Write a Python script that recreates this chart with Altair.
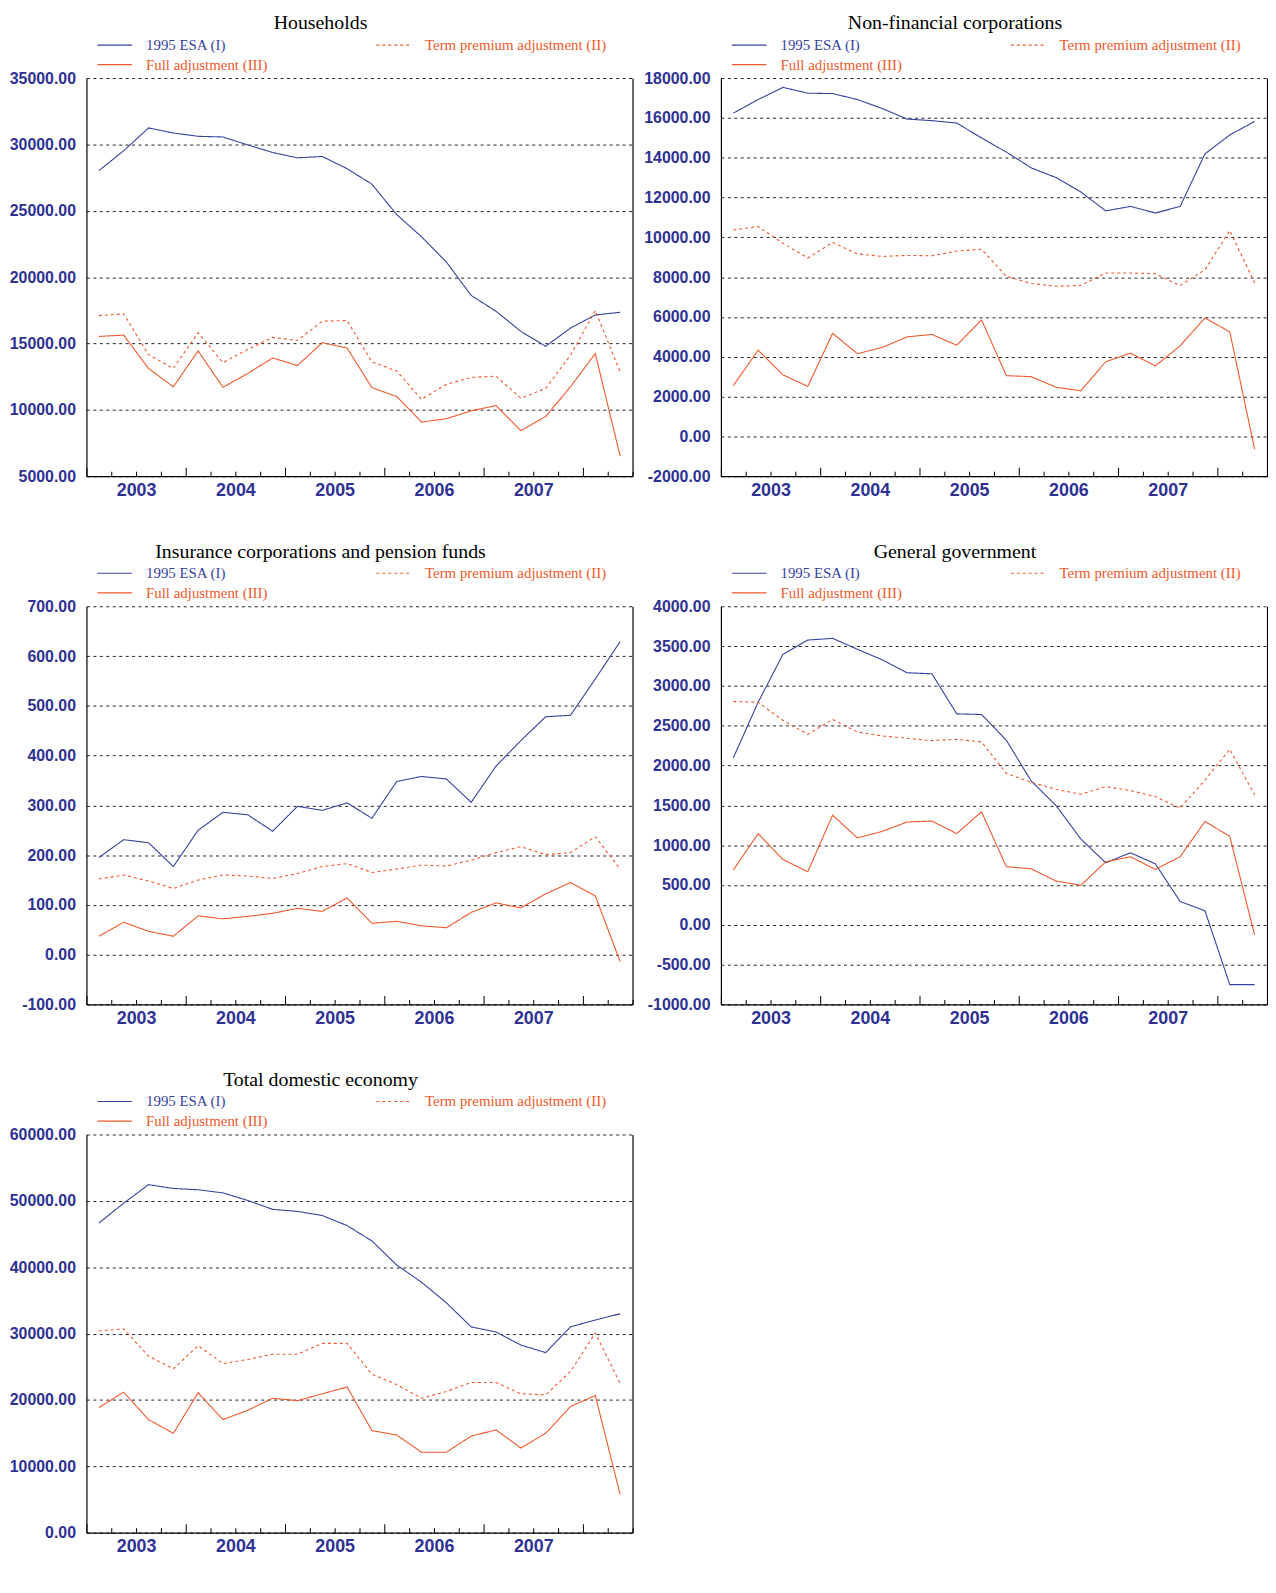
import json
import altair as alt
import pandas as pd

SERIES = ["1995 ESA (I)", "Term premium adjustment (II)", "Full adjustment (III)"]
YEARS = ["2003", "2004", "2005", "2006", "2007"]
N_QUARTERS = 22  # 2003Q1 .. 2008Q2

# ---- Households
hh_esa = [28020, 29520, 31240, 30860, 30610, 30560, 29960, 29390, 28990, 29090, 28170,
          27000, 24710, 23040, 21140, 18620, 17430, 15910, 14790, 16160, 17150, 17350]
hh_tpa = [17100, 17230, 14160, 13120, 15810, 13560, 14560, 15460, 15230, 16680, 16730,
          13610, 12920, 10800, 11920, 12440, 12540, 10870, 11620, 14110, 17480, 12870]
hh_full = [15530, 15630, 13120, 11740, 14440, 11700, 12740, 13910, 13340, 15060, 14660,
           11670, 11000, 9080, 9330, 9930, 10320, 8430, 9500, 11740, 14240, 6510]
hh_ticks = [5000, 10000, 15000, 20000, 25000, 30000, 35000]

# ---- Non-financial corporations
nfc_esa = [16240, 16920, 17530, 17240, 17220, 16920, 16470, 15940, 15860, 15740, 14990,
           14280, 13490, 13000, 12280, 11330, 11550, 11220, 11550, 14190, 15140, 15820]
nfc_tpa = [10370, 10540, 9700, 8960, 9740, 9170, 9040, 9090, 9070, 9310, 9400,
           8040, 7680, 7540, 7580, 8210, 8210, 8170, 7580, 8370, 10340, 7710]
nfc_full = [2550, 4330, 3090, 2510, 5180, 4150, 4470, 5000, 5120, 4580, 5850,
            3050, 3000, 2470, 2290, 3750, 4180, 3540, 4550, 5950, 5250, -640]
nfc_ticks = [-2000, 0, 2000, 4000, 6000, 8000, 10000, 12000, 14000, 16000, 18000]

# ---- Insurance corporations and pension funds
icpf_esa = [195, 231, 225, 177, 250, 286, 281, 248, 298, 290, 305,
            274, 348, 358, 353, 306, 379, 430, 478, 481, 554, 629]
icpf_tpa = [152, 160, 148, 133, 150, 160, 158, 153, 163, 177, 183,
            165, 172, 180, 178, 190, 205, 217, 201, 205, 237, 172]
icpf_full = [37, 65, 47, 37, 78, 72, 77, 83, 93, 87, 114,
             63, 67, 58, 54, 85, 104, 94, 122, 145, 118, -14]
icpf_ticks = [-100, 0, 100, 200, 300, 400, 500, 600, 700]

# ---- General government
gg_esa = [2096, 2795, 3397, 3576, 3597, 3460, 3327, 3165, 3152, 2649, 2641,
          2317, 1806, 1498, 1078, 779, 904, 766, 293, 176, -751, -751]
gg_tpa = [2803, 2795, 2566, 2392, 2579, 2421, 2371, 2342, 2313, 2329, 2296,
          1901, 1789, 1702, 1639, 1735, 1685, 1610, 1465, 1818, 2204, 1631]
gg_full = [687, 1145, 820, 667, 1377, 1091, 1174, 1290, 1303, 1145, 1419,
           729, 704, 550, 496, 791, 854, 696, 854, 1298, 1111, -127]
gg_ticks = [-1000, -500, 0, 500, 1000, 1500, 2000, 2500, 3000, 3500, 4000]

# ---- Total domestic economy
tde_esa = [46650, 49650, 52440, 51870, 51670, 51200, 50060, 48720, 48410, 47790, 46280,
           43960, 40330, 37740, 34640, 31010, 30240, 28270, 27130, 31010, 32050, 32980]
tde_tpa = [30390, 30700, 26610, 24700, 28170, 25470, 26100, 26880, 26880, 28530, 28530,
           23870, 22320, 20250, 21280, 22630, 22630, 20920, 20770, 24290, 30080, 22470]
tde_full = [18850, 21180, 17040, 14970, 21080, 17040, 18440, 20250, 19890, 20920, 21960,
            15380, 14710, 12120, 12120, 14550, 15490, 12750, 14970, 19010, 20660, 5760]
tde_ticks = [0, 10000, 20000, 30000, 40000, 50000, 60000]

PANELS = [
    ("Households", hh_esa, hh_tpa, hh_full, hh_ticks),
    ("Non-financial corporations", nfc_esa, nfc_tpa, nfc_full, nfc_ticks),
    ("Insurance corporations and pension funds", icpf_esa, icpf_tpa, icpf_full, icpf_ticks),
    ("General government", gg_esa, gg_tpa, gg_full, gg_ticks),
    ("Total domestic economy", tde_esa, tde_tpa, tde_full, tde_ticks),
]

BLUE = "#34429f"
ORANGE = "#f1592c"
AXIS_BLUE = "#2e3192"
SANS = "Liberation Sans"
SERIF = "Liberation Serif"
W, H = 550, 401

year_pos = [2 + 4 * i for i in range(len(YEARS))]
year_expr = json.dumps(YEARS) + "[(datum.value - 2) / 4]"
ylabel_expr = "(datum.value < 0 ? '-' : '') + format(abs(datum.value), '.2f')"
legend_color_expr = f"datum.label === '{SERIES[0]}' ? '{BLUE}' : '{ORANGE}'"


def make_legend():
    return alt.Legend(
        title=None, orient="none", legendX=21, legendY=-41, columns=2,
        direction="horizontal", values=SERIES,
        columnPadding=106, rowPadding=4, padding=0,
        symbolType="M-3.5,0H3.5", symbolSize=100, symbolStrokeWidth=1.2,
        labelFont=SERIF, labelFontSize=15, labelOffset=24, labelLimit=400,
        labelColor=alt.ExprRef(legend_color_expr),
    )


def panel(title, esa, tpa, full, yticks):
    rows = []
    for s, vals in zip(SERIES, (esa, tpa, full)):
        for q, v in enumerate(vals):
            rows.append({"series": s, "q": q + 0.5, "value": v})
    df = pd.DataFrame(rows)
    xscale = alt.Scale(domain=[0, N_QUARTERS], nice=False, zero=False)
    yscale = alt.Scale(domain=[yticks[0], yticks[-1]], nice=False, zero=False)
    base = alt.Chart(df)
    lines = base.mark_line(strokeWidth=1.1).encode(
        x=alt.X("q:Q", scale=xscale, axis=alt.Axis(
            orient="bottom", values=year_pos, labelExpr=year_expr, ticks=False,
            grid=False, domain=True, domainColor="#000", domainWidth=1.2,
            labelFont=SANS, labelFontSize=18, labelFontWeight="bold",
            labelColor=AXIS_BLUE, labelPadding=5, title=None)),
        y=alt.Y("value:Q", scale=yscale, axis=alt.Axis(
            orient="left", values=yticks, labelExpr=ylabel_expr, ticks=False, tickSize=0,
            grid=True, gridDash=[3, 3.5], gridColor="#222", gridWidth=1,
            domain=True, domainColor="#000", domainWidth=1.2,
            labelFont=SANS, labelFontSize=16, labelFontWeight="bold",
            labelColor=AXIS_BLUE, labelPadding=11, minExtent=79, maxExtent=79,
            title=None)),
        color=alt.Color("series:N", scale=alt.Scale(domain=SERIES, range=[BLUE, ORANGE, ORANGE]),
                        legend=make_legend()),
        strokeDash=alt.StrokeDash("series:N", scale=alt.Scale(domain=SERIES, range=[[1, 0], [3, 3], [1, 0]]),
                                  legend=make_legend()),
        order=alt.Order("q:Q"),
    )
    ticks = base.mark_point(opacity=0).encode(
        x=alt.X("q:Q", scale=xscale, axis=alt.Axis(
            orient="top", offset=-H, values=list(range(0, N_QUARTERS + 1)),
            labels=False, domain=False, grid=False, ticks=True, tickColor="#000",
            tickWidth=1,
            tickSize={"condition": {"test": "datum.value % 4 === 0", "value": 9}, "value": 5},
            minExtent=0, maxExtent=0, title=None)),
        y=alt.Y("value:Q", scale=yscale, axis=alt.Axis(
            orient="right", labels=False, ticks=False, grid=False, domain=True,
            domainColor="#000", domainWidth=1.2, minExtent=0, maxExtent=0, title=None)),
    )
    return alt.layer(lines, ticks).resolve_axis(x="independent", y="independent").properties(
        width=W, height=H,
        title=alt.TitleParams(text=title, font=SERIF, fontSize=20, fontWeight="normal",
                              color="#000", anchor="middle", frame="bounds", offset=4),
    )


chart = alt.concat(*[panel(*p) for p in PANELS], columns=2,
                   spacing={"row": 43, "column": 9}).resolve_legend(
    color="independent", strokeDash="independent"
).properties(
    padding={"left": 0, "top": 0, "right": 0, "bottom": 0},
    background="white",
).configure_view(stroke=None)

chart.save("out.html", embed_options={"renderer": "svg", "actions": False})
